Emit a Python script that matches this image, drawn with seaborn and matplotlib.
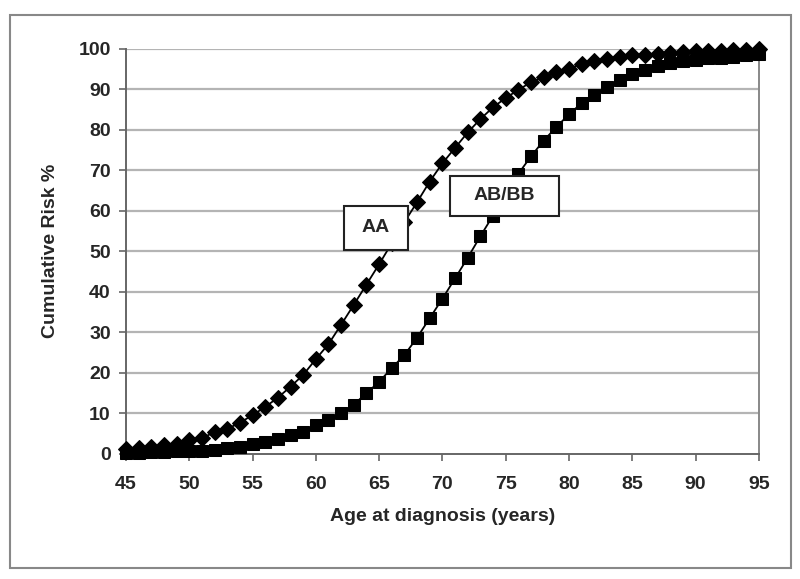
import numpy as np
import pandas as pd
import matplotlib
matplotlib.use("Agg")
import matplotlib.pyplot as plt
from matplotlib.patches import Rectangle
import seaborn as sns

age = list(range(45, 96))
risk_aa = [1.2, 1.4, 1.7, 2.2, 2.5, 3.5, 3.9, 5.4, 6.2, 7.7,
           9.6, 11.6, 13.9, 16.6, 19.5, 23.4, 27.1, 31.9, 36.8, 41.8,
           46.8, 52.0, 57.2, 62.1, 67.2, 71.7, 75.5, 79.3, 82.6, 85.5,
           87.8, 89.8, 91.7, 92.9, 94.2, 95.0, 96.2, 97.0, 97.5, 98.0,
           98.4, 98.5, 98.7, 98.9, 99.1, 99.3, 99.4, 99.5, 99.6, 99.7, 99.8]
risk_abbb = [0.3, 0.3, 0.5, 0.4, 0.7, 0.7, 0.8, 1.0, 1.6, 1.7,
             2.4, 3.0, 3.6, 4.6, 5.5, 7.2, 8.3, 10.2, 12.2, 15.0,
             17.8, 21.2, 24.4, 28.7, 33.5, 38.3, 43.3, 48.4, 53.7, 58.8,
             64.0, 69.1, 73.4, 77.3, 80.6, 83.8, 86.5, 88.6, 90.5, 92.3,
             93.7, 94.7, 95.8, 96.5, 96.8, 97.2, 97.6, 97.7, 98.0, 98.4, 98.6]
x_ticks = list(range(45, 100, 5))
y_ticks = list(range(0, 110, 10))

sns.set_style("white")
plt.rcParams['font.family'] = ['Liberation Sans', 'DejaVu Sans']
plt.rcParams['font.weight'] = 'bold'

fig = plt.figure(figsize=(8, 5.79), dpi=100)
ax = fig.add_axes([0.1575, 0.2159, 0.791, 0.7003])

# grid first so curves sit on top
for yv in y_ticks[1:]:
    ax.axhline(yv, color='#b4b4b4', lw=1.6, zorder=0)

df_aa = pd.DataFrame({'age': age, 'risk': risk_aa})
df_ab = pd.DataFrame({'age': age, 'risk': risk_abbb})
sns.lineplot(data=df_aa, x='age', y='risk', ax=ax, color='black', lw=1.3,
             marker='D', markersize=8, markeredgecolor='black', clip_on=False, zorder=3)
sns.lineplot(data=df_ab, x='age', y='risk', ax=ax, color='black', lw=1.3,
             marker='s', markersize=9, markeredgecolor='black', clip_on=False, zorder=3)

ax.set_xlim(45, 95)
ax.set_ylim(0, 100)
ax.set_xticks(x_ticks)
ax.set_yticks(y_ticks)
ax.tick_params(axis='both', direction='out', length=5, width=1.2, color='#666666',
               labelsize=14, left=True, bottom=True)
ax.tick_params(axis='x', pad=11)
ax.tick_params(axis='y', pad=6)
for lab in ax.get_xticklabels() + ax.get_yticklabels():
    lab.set_fontweight('bold')

ax.set_xlabel('Age at diagnosis (years)', fontsize=14, fontweight='bold', labelpad=11)
ax.set_ylabel('Cumulative Risk %', fontsize=14, fontweight='bold', labelpad=14)

ax.spines['left'].set_color('#666666')
ax.spines['bottom'].set_color('#666666')
ax.spines['right'].set_color('#888888')
ax.spines['top'].set_visible(False)
for s in ['left', 'bottom', 'right']:
    ax.spines[s].set_linewidth(1.4)

# label boxes
labels = [('AA', 62.2, 50.3, 5.1, 10.9), ('AB/BB', 70.6, 58.7, 8.6, 9.9)]
for txt, x0, y0, w, h in labels:
    ax.add_patch(Rectangle((x0, y0), w, h, facecolor='white', edgecolor='#222222',
                           lw=1.5, zorder=5))
    ax.text(x0 + w / 2, y0 + h / 2, txt, ha='center', va='center', fontsize=14,
            fontweight='bold', zorder=6)

# outer frame
fig.patches.append(Rectangle((0.0125, 0.019), 0.976, 0.955, transform=fig.transFigure,
                             fill=False, edgecolor='#888888', lw=1.5))

fig.savefig('out.png', dpi=100)
